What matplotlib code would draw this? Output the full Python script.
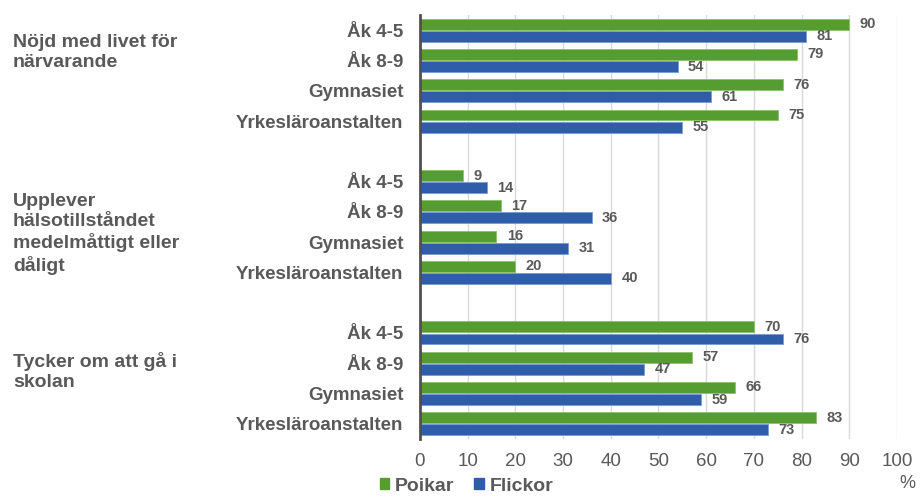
import matplotlib

matplotlib.use("Agg")
import matplotlib.pyplot as plt  # noqa: E402
import matplotlib.transforms as mtransforms  # noqa: E402
import numpy as np  # noqa: E402
from matplotlib.patches import Patch  # noqa: E402

plt.rcParams["font.family"] = ["Liberation Sans", "DejaVu Sans"]

# data
groups = [
    "Nöjd med livet för\nnärvarande",
    "Upplever\nhälsotillståndet\nmedelmåttigt eller\ndåligt",
    "Tycker om att gå i\nskolan",
]
categories = ["Åk 4-5", "Åk 8-9", "Gymnasiet", "Yrkesläroanstalten"]
poikar = [90, 79, 76, 75, 9, 17, 16, 20, 70, 57, 66, 83]
flickor = [81, 54, 61, 55, 14, 36, 31, 40, 76, 47, 59, 73]
xticks = list(range(0, 101, 10))

GREEN = "#559D31"
BLUE = "#2F5DAA"
GRAY = "#595959"

fig = plt.figure(figsize=(9.22, 5.01), dpi=100)
ax = fig.add_axes([0.4555, 0.1238, 0.5174, 0.8462])

# slot positions: 4 categories per group, 1 empty slot between groups
pos = np.array([g * 5 + c for g in range(len(groups)) for c in range(len(categories))])
h = 0.36
off = 0.2

ax.barh(pos - off, poikar, height=h, color=GREEN, edgecolor="#8CC06A", linewidth=0.6, zorder=3)
ax.barh(pos + off, flickor, height=h, color=BLUE, edgecolor="#7A9BD0", linewidth=0.6, zorder=3)

for p, v in zip(pos, poikar):
    ax.text(v + 2.2, p - off, str(v), ha="left", va="center", fontsize=10.5,
            fontweight="bold", color=GRAY)
for p, v in zip(pos, flickor):
    ax.text(v + 2.2, p + off, str(v), ha="left", va="center", fontsize=10.5,
            fontweight="bold", color=GRAY)

ax.set_xlim(0, 100)
ax.set_ylim(13.5, -0.5)
ax.set_xticks(xticks)
ax.set_xticklabels([str(t) for t in xticks], fontsize=13.5, color=GRAY)
ax.set_yticks(pos)
ax.set_yticklabels(categories * len(groups), fontsize=13.5, fontweight="bold", color=GRAY)
ax.tick_params(axis="y", length=0, pad=12)
ax.tick_params(axis="x", length=0, pad=10)

ax.grid(axis="x", color="#D9D9D9", linewidth=1, zorder=0)
for s in ["top", "right", "bottom"]:
    ax.spines[s].set_visible(False)
ax.spines["left"].set_color("#505050")
ax.spines["left"].set_linewidth(2)
ax.spines["left"].set_zorder(4)

# group labels on the far left
group_y = [0.73, 6.73, 11.27]
trans = mtransforms.blended_transform_factory(fig.transFigure, ax.transData)
for name, gy in zip(groups, group_y):
    ax.text(0.014, gy, name, transform=trans, fontsize=14,
            fontweight="bold", color=GRAY, ha="left", va="center", linespacing=1.22)

fig.text(0.984, 0.034, "%", fontsize=13, color=GRAY, ha="center", va="center")

handles = [Patch(color=GREEN, label="Poikar"), Patch(color=BLUE, label="Flickor")]
leg = fig.legend(handles=handles, loc="lower center", bbox_to_anchor=(0.506, -0.022), ncol=2,
                 frameon=False, handlelength=0.5, handleheight=0.5, handletextpad=0.3,
                 columnspacing=1.0, prop={"size": 14, "weight": "bold"})
for t in leg.get_texts():
    t.set_color(GRAY)

fig.savefig("out.png", dpi=100, facecolor="white")
